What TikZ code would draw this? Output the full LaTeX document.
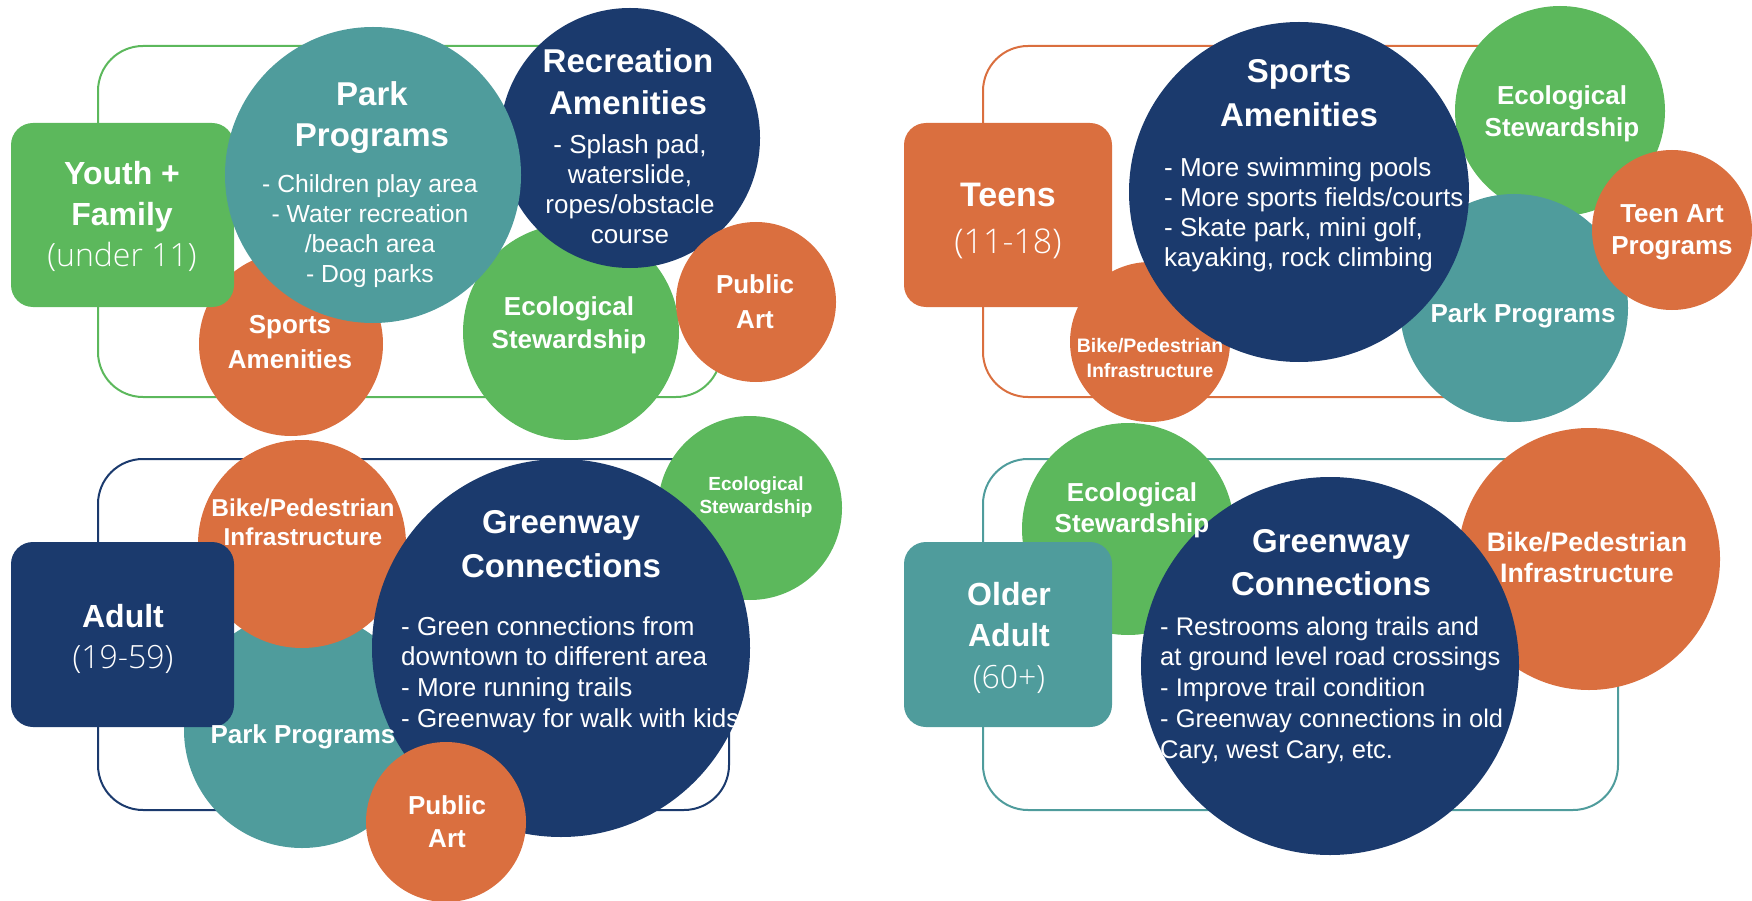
\documentclass[tikz,border=0pt]{standalone}
\usepackage{fontspec}
\setmainfont{Liberation Sans}
\newfontfamily\lightfont{Open Sans Light}
\definecolor{cgreen}{HTML}{5CB85C}
\definecolor{corange}{HTML}{DA6F3F}
\definecolor{cnavy}{HTML}{1B3A6D}
\definecolor{cteal}{HTML}{4F9C9C}
\newcommand{\ctab}[1]{\begin{tabular}[t]{@{}c@{}}#1\end{tabular}}
\newcommand{\ltab}[1]{\begin{tabular}[t]{@{}l@{}}#1\end{tabular}}
\begin{document}
\begin{tikzpicture}[x=1pt,y=-1pt,
  bub/.style={circle, fill=#1, inner sep=0pt, draw=none},
  grp/.style={draw=#1, line width=2pt, rounded corners=45pt, inner sep=0pt},
  agebox/.style={fill=#1, rounded corners=22pt, inner sep=0pt, draw=none},
  txt/.style={text=white, inner sep=0pt, anchor=base},
  ltxt/.style={text=white, inner sep=0pt, anchor=base west},
  ttl/.style={font=\bfseries\fontsize{33}{#1}\selectfont},
  ttl/.default=42,
  lbl/.style={font=\bfseries\fontsize{26}{#1}\selectfont},
  lbl/.default=34,
  itm/.style={font=\fontsize{26}{#1}\selectfont},
  itm/.default=30,
  agel/.style={font=\bfseries\fontsize{32}{#1}\selectfont},
  agel/.default=41,
]
\useasboundingbox (0,0) rectangle (1752,901);

% ---------------- Top left: Youth + Family ----------------
\node[grp=cgreen, minimum width=623pt, minimum height=351pt] (tlgrp) at (409.5,221.5) {};
\node[bub=corange, minimum size=184pt] (tlsport) at (291,344) {};
\node[agebox=cgreen, minimum width=223pt, minimum height=184pt] (tlbox) at (122.5,215) {};
\node[bub=cgreen, minimum size=216pt] (tleco) at (571,332) {};
\node[bub=cnavy, minimum size=260pt] (tlrec) at (630,138) {};
\node[bub=cteal, minimum size=296pt] (tlpark) at (373,175) {};
\node[bub=corange, minimum size=160pt] (tlart) at (756,302) {};

\node[txt, agel] (tlboxT) at (122,185) {\ctab{Youth +\\Family\\{\lightfont\mdseries (under 11)}}};
\node[txt, ttl=41] (tlparkT) at (372,106) {\ctab{Park\\Programs}};
\node[txt, font=\fontsize{24.7}{30}\selectfont] (tlparkL) at (370,193) {\ctab{- Children play area\\- Water recreation\\/beach area\\- Dog parks}};
\node[txt, ttl=42] (tlrecT) at (628,73) {\ctab{Recreation\\Amenities}};
\node[txt, itm=30] (tlrecL) at (630,154) {\ctab{- Splash pad,\\waterslide,\\ropes/obstacle\\course}};
\node[txt, lbl=35] (tlsportT) at (290,333) {\ctab{Sports\\Amenities}};
\node[txt, lbl=33] (tlecoT) at (569,315) {\ctab{Ecological\\Stewardship}};
\node[txt, lbl=35] (tlartT) at (755,293) {\ctab{Public\\Art}};

% ---------------- Top right: Teens ----------------
\node[grp=corange, minimum width=623pt, minimum height=351pt] (trgrp) at (1294.5,221.5) {};
\node[bub=corange, minimum size=160pt] (trbike) at (1150,342) {};
\node[agebox=corange, minimum width=208pt, minimum height=184pt] (trbox) at (1008,215) {};
\node[bub=cgreen, minimum size=210pt] (treco) at (1560,111) {};
\node[bub=cteal, minimum size=228pt] (trpark) at (1514,308) {};
\node[bub=cnavy, minimum size=340pt] (trsport) at (1299,192) {};
\node[bub=corange, minimum size=160pt] (trart) at (1672,230) {};

\node[txt, font=\bfseries\fontsize{34}{47}\selectfont] (trboxT) at (1008,207) {\ctab{Teens\\{\lightfont\mdseries (11-18)}}};
\node[txt, ttl=44] (trsportT) at (1299,83) {\ctab{Sports\\Amenities}};
\node[ltxt, itm=30] (trsportL) at (1164,177) {\ltab{- More swimming pools\\- More sports fields/courts\\- Skate park, mini golf,\\kayaking, rock climbing}};
\node[txt, lbl=32] (trecoT) at (1562,105) {\ctab{Ecological\\Stewardship}};
\node[txt, lbl=32] (trartT) at (1672,223) {\ctab{Teen Art\\Programs}};
\node[txt, lbl] (trparkT) at (1523,322) {Park Programs};
\node[txt, font=\bfseries\fontsize{19.5}{25}\selectfont] (trbikeT) at (1150,352) {\ctab{Bike/Pedestrian\\Infrastructure}};

% ---------------- Bottom left: Adult ----------------
\node[grp=cnavy, minimum width=631pt, minimum height=351pt] (blgrp) at (413.5,634.5) {};
\node[bub=cteal, minimum size=236pt] (blpark) at (302,730) {};
\node[bub=corange, minimum size=208pt] (blbike) at (302,544) {};
\node[agebox=cnavy, minimum width=223pt, minimum height=185pt] (blbox) at (122.5,634.5) {};
\node[bub=cgreen, minimum size=184pt] (bleco) at (750,508) {};
\node[bub=cnavy, minimum size=378pt] (blgreen) at (561,648) {};
\node[bub=corange, minimum size=160pt] (blart) at (446,822) {};

\node[txt, agel] (blboxT) at (123,627) {\ctab{Adult\\{\lightfont\mdseries (19-59)}}};
\node[txt, font=\bfseries\fontsize{24.4}{29}\selectfont] (blbikeT) at (303,516) {\ctab{Bike/Pedestrian\\Infrastructure}};
\node[txt, ttl=44] (blgreenT) at (561,533) {\ctab{Greenway\\Connections}};
\node[ltxt, itm=30.7] (blgreenL) at (401,635) {\ltab{- Green connections from\\downtown to different area\\- More running trails\\- Greenway for walk with kids}};
\node[txt, lbl] (blparkT) at (303,743) {Park Programs};
\node[txt, font=\bfseries\fontsize{19}{23}\selectfont] (blecoT) at (756,490) {\ctab{Ecological\\Stewardship}};
\node[txt, lbl=33] (blartT) at (447,814) {\ctab{Public\\Art}};

% ---------------- Bottom right: Older Adult ----------------
\node[grp=cteal, minimum width=635pt, minimum height=351pt] (brgrp) at (1300.5,634.5) {};
\node[bub=cgreen, minimum size=212pt] (breco) at (1128,529) {};
\node[agebox=cteal, minimum width=208pt, minimum height=185pt] (brbox) at (1008,634.5) {};
\node[bub=corange, minimum size=262pt] (brbike) at (1589,559) {};
\node[bub=cnavy, minimum size=378pt] (brgreen) at (1330,666) {};

\node[txt, agel=41.5] (brboxT) at (1009,605) {\ctab{Older\\Adult\\{\lightfont\mdseries (60+)}}};
\node[txt, lbl=31] (brecoT) at (1132,501) {\ctab{Ecological\\Stewardship}};
\node[txt, ttl=43] (brgreenT) at (1331,552) {\ctab{Greenway\\Connections}};
\begin{scope}
  \clip (1330,666) circle (189pt);
  \node[ltxt, font=\fontsize{25.5}{30.75}\selectfont] (brgreenL) at (1160,635) {\ltab{- Restrooms along trails and\\at ground level road crossings\\- Improve trail condition\\- Greenway connections in old\\Cary, west Cary, etc.}};
\end{scope}
\node[txt, font=\bfseries\fontsize{26.7}{31}\selectfont] (brbikeT) at (1587,551) {\ctab{Bike/Pedestrian\\Infrastructure}};
\end{tikzpicture}
\end{document}
